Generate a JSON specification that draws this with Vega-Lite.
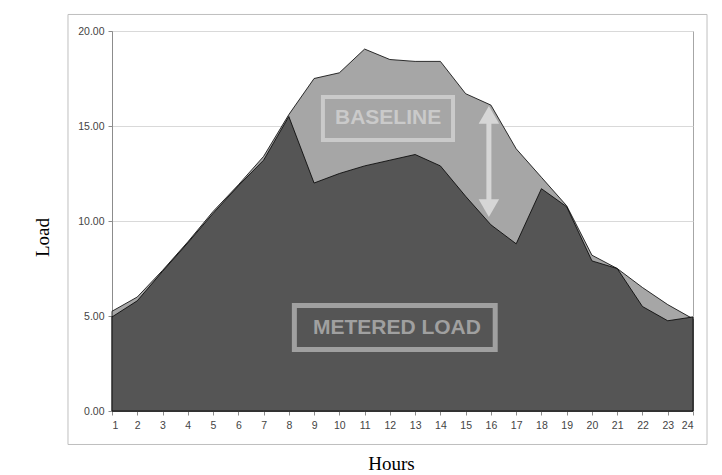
{
  "$schema": "https://vega.github.io/schema/vega-lite/v6.json",
  "width": 581,
  "height": 380,
  "autosize": {"type": "none"},
  "padding": {"left": 112, "top": 31, "right": 29, "bottom": 64},
  "background": "white",
  "config": {
    "view": {"stroke": "#a6a6a6", "strokeWidth": 1},
    "axis": {"labelFont": "Liberation Sans", "labelFontSize": 10.5, "labelColor": "#444444", "labelOverlap": false, "labelBound": false, "domainColor": "#8c8c8c", "tickColor": "#8c8c8c", "tickSize": 4, "titleFont": "Liberation Serif", "titleFontWeight": "normal", "titleFontSize": 19, "titleColor": "black"}
  },
  "data": {
    "values": [
      {"hour": 1, "baseline": 5.25, "metered": 4.95},
      {"hour": 2, "baseline": 6.0, "metered": 5.8},
      {"hour": 3, "baseline": 7.4, "metered": 7.35},
      {"hour": 4, "baseline": 8.9, "metered": 8.85},
      {"hour": 5, "baseline": 10.5, "metered": 10.4},
      {"hour": 6, "baseline": 11.9, "metered": 11.85},
      {"hour": 7, "baseline": 13.4, "metered": 13.2},
      {"hour": 8, "baseline": 15.6, "metered": 15.5},
      {"hour": 9, "baseline": 17.5, "metered": 12.0},
      {"hour": 10, "baseline": 17.8, "metered": 12.5},
      {"hour": 11, "baseline": 19.05, "metered": 12.9},
      {"hour": 12, "baseline": 18.5, "metered": 13.2},
      {"hour": 13, "baseline": 18.4, "metered": 13.5},
      {"hour": 14, "baseline": 18.4, "metered": 12.9},
      {"hour": 15, "baseline": 16.7, "metered": 11.3},
      {"hour": 16, "baseline": 16.1, "metered": 9.8},
      {"hour": 17, "baseline": 13.8, "metered": 8.8},
      {"hour": 18, "baseline": 12.3, "metered": 11.7},
      {"hour": 19, "baseline": 10.8, "metered": 10.75},
      {"hour": 20, "baseline": 8.2, "metered": 7.9},
      {"hour": 21, "baseline": 7.5, "metered": 7.5},
      {"hour": 22, "baseline": 6.5, "metered": 5.5},
      {"hour": 23, "baseline": 5.6, "metered": 4.75},
      {"hour": 24, "baseline": 4.85, "metered": 4.95}
    ]
  },
  "layer": [
    {
      "mark": {"type": "rect", "fill": null, "stroke": "#bfbfbf", "strokeWidth": 1, "clip": false},
      "data": {"values": [{}]},
      "encoding": {
        "x": {"datum": -0.742, "type": "quantitative", "scale": {"domain": [1, 24], "nice": false, "zero": false}, "axis": {"title": "Hours", "values": [1,2,3,4,5,6,7,8,9,10,11,12,13,14,15,16,17,18,19,20,21,22,23,24], "tickCount": 30, "labelOverlap": false, "grid": false, "labelPadding": 5, "titleX": 279, "titleY": 52, "titleBaseline": "middle", "titleAnchor": "middle", "titleAlign": "center"}},
        "x2": {"datum": 24.555},
        "y": {"datum": 20.87, "type": "quantitative", "scale": {"domain": [0, 20], "nice": false}, "axis": {"title": "Load", "values": [0, 5, 10, 15, 20], "tickCount": 10, "format": ".2f", "labelOverlap": false, "grid": true, "gridColor": "#d9d9d9", "labelPadding": 4, "titleX": -70, "titleY": 206, "titleAngle": -90, "titleBaseline": "middle", "titleAlign": "center"}},
        "y2": {"datum": -1.763}
      }
    },
    {
      "mark": {"type": "area", "color": "#a6a6a6", "stroke": "black", "strokeWidth": 0.8, "opacity": 1},
      "encoding": {
        "x": {"field": "hour", "type": "quantitative"},
        "y": {"field": "baseline", "type": "quantitative"}
      }
    },
    {
      "mark": {"type": "area", "color": "#555555", "stroke": "black", "strokeWidth": 0.8, "opacity": 1},
      "encoding": {
        "x": {"field": "hour", "type": "quantitative"},
        "y": {"field": "metered", "type": "quantitative"}
      }
    },
    {
      "data": {"values": [{}]},
      "mark": {"type": "rect", "fill": null, "stroke": "#cacaca", "strokeWidth": 4},
      "encoding": {
        "x": {"datum": 9.35, "type": "quantitative"},
        "x2": {"datum": 14.5},
        "y": {"datum": 16.53, "type": "quantitative"},
        "y2": {"datum": 14.26}
      }
    },
    {
      "data": {"values": [{}]},
      "mark": {"type": "text", "text": "BASELINE", "font": "Liberation Sans", "fontWeight": "bold", "fontSize": 21, "color": "#cacaca", "baseline": "middle", "align": "center"},
      "encoding": {
        "x": {"datum": 11.93, "type": "quantitative"},
        "y": {"datum": 15.4, "type": "quantitative"}
      }
    },
    {
      "data": {"values": [{}]},
      "mark": {"type": "rect", "fill": null, "stroke": "#a0a0a0", "strokeWidth": 5},
      "encoding": {
        "x": {"datum": 8.22, "type": "quantitative"},
        "x2": {"datum": 16.17},
        "y": {"datum": 5.55, "type": "quantitative"},
        "y2": {"datum": 3.24}
      }
    },
    {
      "data": {"values": [{}]},
      "mark": {"type": "text", "text": "METERED LOAD", "font": "Liberation Sans", "fontWeight": "bold", "fontSize": 21, "color": "#a0a0a0", "baseline": "middle", "align": "center"},
      "encoding": {
        "x": {"datum": 12.28, "type": "quantitative"},
        "y": {"datum": 4.37, "type": "quantitative"}
      }
    },
    {
      "data": {"values": [{}]},
      "mark": {"type": "rule", "color": "#d6d6d6", "strokeWidth": 5},
      "encoding": {
        "x": {"datum": 15.92, "type": "quantitative"},
        "y": {"datum": 15.6, "type": "quantitative"},
        "y2": {"datum": 10.6}
      }
    },
    {
      "data": {"values": [{}]},
      "mark": {"type": "point", "shape": "triangle-up", "filled": true, "size": 420, "color": "#d6d6d6", "opacity": 1},
      "encoding": {
        "x": {"datum": 15.92, "type": "quantitative"},
        "y": {"datum": 15.58, "type": "quantitative"}
      }
    },
    {
      "data": {"values": [{}]},
      "mark": {"type": "point", "shape": "triangle-down", "filled": true, "size": 420, "color": "#d6d6d6", "opacity": 1},
      "encoding": {
        "x": {"datum": 15.92, "type": "quantitative"},
        "y": {"datum": 10.68, "type": "quantitative"}
      }
    }
  ]
}
